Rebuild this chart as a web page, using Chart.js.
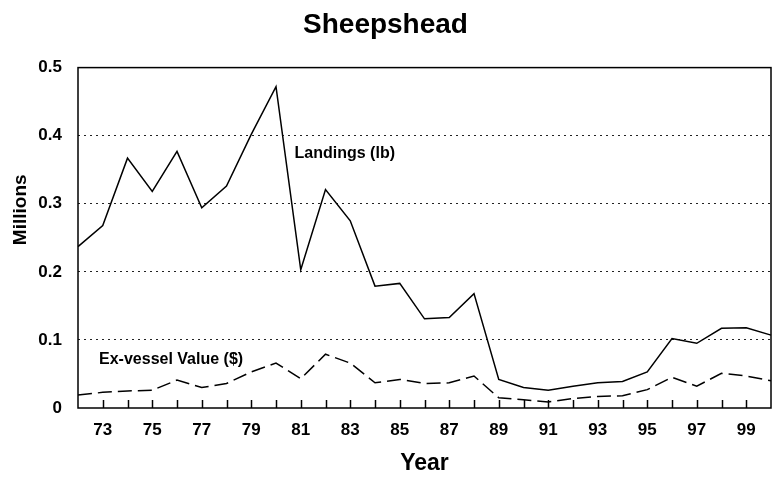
<!DOCTYPE html>
<html>
<head>
<meta charset="utf-8">
<script src="https://cdn.jsdelivr.net/npm/chart.js@4"></script>
<style>
  body { margin: 0; background: #fff; }
  #wrap { width: 774px; height: 477px; }
</style>
</head>
<body>
<div id="wrap"><canvas id="myChart"></canvas></div>
<script>
// Years along the x-axis (1972 - 2000)
var years = ['72','73','74','75','76','77','78','79','80','81','82','83','84','85',
             '86','87','88','89','90','91','92','93','94','95','96','97','98','99','00'];
// Landings (lb), millions
var landings = [0.237, 0.268, 0.367, 0.318, 0.377, 0.294, 0.326, 0.402, 0.472, 0.203,
                0.321, 0.275, 0.179, 0.183, 0.131, 0.133, 0.168, 0.042, 0.030, 0.026,
                0.032, 0.037, 0.039, 0.053, 0.102, 0.095, 0.117, 0.118, 0.107];
// Ex-vessel value ($), millions
var exvessel = [0.019, 0.023, 0.025, 0.026, 0.041, 0.030, 0.036, 0.053, 0.066, 0.043,
                0.079, 0.066, 0.037, 0.042, 0.036, 0.037, 0.047, 0.015, 0.012, 0.009,
                0.014, 0.017, 0.018, 0.027, 0.045, 0.032, 0.051, 0.047, 0.040];
var yTicks = [0, 0.1, 0.2, 0.3, 0.4, 0.5];

Chart.defaults.font.family = '"Liberation Sans", Arial, sans-serif';
Chart.defaults.font.weight = 'bold';
Chart.defaults.color = '#000';

// frame, inside tick marks, labels on the lines
var extras = {
  id: 'extras',
  afterDraw: function(chart) {
    var ctx = chart.ctx, a = chart.chartArea;
    var xs = chart.scales.x, ys = chart.scales.y;
    ctx.save();
    ctx.strokeStyle = '#000';
    ctx.lineWidth = 1.5;
    ctx.strokeRect(a.left, a.top, a.right - a.left, a.bottom - a.top);
    for (var i = 1; i < years.length - 1; i++) {
      var px = Math.round(xs.getPixelForValue(i)) + 0.5;
      ctx.beginPath();
      ctx.moveTo(px, a.bottom);
      ctx.lineTo(px, a.bottom - 8);
      ctx.stroke();
    }
    ctx.fillStyle = '#000';
    ctx.textBaseline = 'middle';
    ctx.font = 'bold 16px "Liberation Sans"';
    ctx.fillText('Landings (lb)', xs.getPixelForValue(8.75), ys.getPixelForValue(0.373));
    ctx.fillText('Ex-vessel Value ($)', xs.getPixelForValue(0.85), ys.getPixelForValue(0.0706));
    ctx.translate(21, (a.top + a.bottom) / 2 - 28);
    ctx.rotate(-Math.PI / 2);
    ctx.textAlign = 'center';
    ctx.font = 'bold 19px "Liberation Sans"';
    ctx.fillText('Millions', 0, 0);
    ctx.restore();
  }
};

var myChart = new Chart('myChart', {
  type: 'line',
  data: {
    labels: years,
    datasets: [
      {
        label: 'Landings (lb)',
        data: landings,
        borderColor: '#000',
        borderWidth: 1.5,
        pointRadius: 0,
        tension: 0,
        fill: false
      },
      {
        label: 'Ex-vessel Value ($)',
        data: exvessel,
        borderColor: '#000',
        borderWidth: 1.5,
        borderDash: [14, 6],
        pointRadius: 0,
        tension: 0,
        fill: false
      }
    ]
  },
  options: {
    responsive: true,
    maintainAspectRatio: false,
    animation: false,
    layout: { padding: { top: 0, right: 3, left: 0, bottom: 0 } },
    plugins: {
      legend: { display: false },
      tooltip: { enabled: false },
      title: {
        display: true,
        text: 'Sheepshead',
        font: { size: 28, weight: 'bold' },
        padding: { top: 8, bottom: 26 }
      }
    },
    scales: {
      x: {
        offset: false,
        grid: { display: false, drawTicks: false },
        border: { display: false },
        ticks: {
          autoSkip: false,
          maxRotation: 0,
          padding: 12,
          font: { size: 17 },
          callback: function(v, i) { return i % 2 === 1 ? years[i] : ''; }
        },
        title: {
          display: true,
          text: 'Year',
          font: { size: 23, weight: 'bold' },
          padding: { top: 9, bottom: 0 }
        },
        afterFit: function(s) { s.height = 69; s.paddingLeft = 0; s.paddingRight = 0; }
      },
      y: {
        min: 0,
        max: 0.5,
        afterBuildTicks: function(s) { s.ticks = yTicks.map(function(v) { return { value: v }; }); },
        grid: {
          drawTicks: false,
          color: function(c) { return (c.tick && (c.tick.value === 0 || c.tick.value === 0.5)) ? 'rgba(0,0,0,0)' : '#222'; },
          lineWidth: 1
        },
        border: { display: false, dash: [2, 4] },
        ticks: {
          padding: 16,
          font: { size: 17 },
          callback: function(v) { return v === 0 ? '0' : v.toFixed(1); }
        },
        afterFit: function(s) { s.width = 78; }
      }
    }
  },
  plugins: [extras]
});
</script>
</body>
</html>
